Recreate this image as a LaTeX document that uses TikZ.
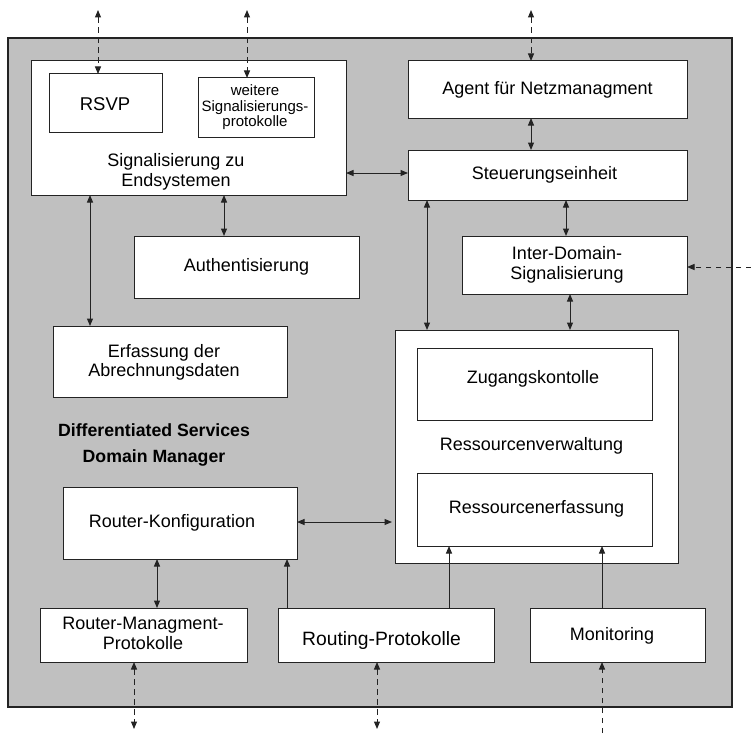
\documentclass[tikz,border=0pt]{standalone}
\usepackage{fontspec}
\setmainfont{Liberation Sans}
\usetikzlibrary{arrows.meta}
\definecolor{panel}{RGB}{192,192,192}
\definecolor{ink}{RGB}{35,35,35}
% \mkbox[options]{name}{x1}{y1}{x2}{y2}: an empty framed block between two corners
\newcommand\mkbox[6][]{\node[blk,minimum width={#5-#3},minimum height={#6-#4},#1] (#2) at ({(#3+#5)/2},{(#4+#6)/2}) {};}
\begin{document}
\begin{tikzpicture}[x=1pt,y=-1pt,
  blk/.style={draw=ink, line width=1pt, fill=white, inner sep=0pt, outer sep=0pt},
  lbl/.style={inner sep=0pt, align=center, font=\fontsize{18}{19.5}\selectfont},
  small/.style={inner sep=0pt, align=center, font=\fontsize{15}{15.6}\selectfont},
  title/.style={inner sep=0pt, align=center, font=\fontsize{17.7}{26}\selectfont\bfseries},
  tip/.tip={Triangle[length=7.5pt,width=6pt]},
  link/.style={draw=ink, line width=1pt},
  ext/.style={draw=ink, line width=1pt, dash pattern=on 5.5pt off 4.5pt},
]
\useasboundingbox (0,0) rectangle (751,733);

% domain manager panel
\mkbox[fill=panel, line width=1.5pt]{dm}{8}{38}{732}{707}
\node[title] (dmt) at (154,445) {Differentiated Services\\Domain Manager};

% signalling towards end systems
\mkbox{sig}{31}{61}{346}{195}
\node[lbl] (sigt) at (176,172) {Signalisierung zu\\Endsystemen};
\mkbox{rsvp}{49}{74}{162}{132}
\node[lbl, font=\fontsize{18.5}{19.5}\selectfont] (rsvpt) at (105,104) {RSVP};
\mkbox{more}{198}{78}{314}{137}
\node[small] (moret) at (255,107.5) {weitere\\Signalisierungs-\\protokolle};

% management and control
\mkbox{agent}{408}{61}{687}{118}
\node[lbl] (agentt) at (547.5,90) {Agent für Netzmanagment};
\mkbox{ctrl}{408}{150}{687}{200}
\node[lbl] (ctrlt) at (544.5,174.5) {Steuerungseinheit};
\mkbox{inter}{462}{236}{687}{294}
\node[lbl] (intert) at (567,265) {Inter-Domain-\\Signalisierung};
\mkbox{auth}{134}{236}{359}{298}
\node[lbl] (autht) at (246.5,267) {Authentisierung};
\mkbox{acct}{53}{326}{287}{397}
\node[lbl] (acctt) at (164,362.5) {Erfassung der\\Abrechnungsdaten};

% resource management
\mkbox{res}{395}{330}{678}{563}
\node[lbl] (rest) at (531.5,445.5) {Ressourcenverwaltung};
\mkbox{adm}{417}{348}{652}{420}
\node[lbl] (admt) at (533,378.5) {Zugangskontolle};
\mkbox{rinv}{417}{473}{652}{546}
\node[lbl] (rinvt) at (536.5,508.5) {Ressourcenerfassung};

% router side
\mkbox{conf}{63}{487}{297}{559}
\node[lbl] (conft) at (172,522.5) {Router-Konfiguration};
\mkbox{rmp}{40}{608}{247}{662}
\node[lbl] (rmpt) at (143,633.5) {Router-Managment-\\Protokolle};
\mkbox{rout}{278}{608}{494}{662}
\node[lbl, font=\fontsize{19.3}{20}\selectfont] (routt) at (381.5,640) {Routing-Protokolle};
\mkbox{mon}{530}{608}{705}{662}
\node[lbl] (mont) at (612,635.5) {Monitoring};

% anchor columns and rows for the connectors
\coordinate (x90) at (90,0);
\coordinate (x157) at (157,0);
\coordinate (x224) at (224,0);
\coordinate (x287) at (287,0);
\coordinate (x427) at (427,0);
\coordinate (x449) at (449,0);
\coordinate (x531) at (531,0);
\coordinate (x566) at (566,0);
\coordinate (x570) at (570,0);
\coordinate (x602) at (602,0);
\coordinate (y173) at (0,173);
\coordinate (y522) at (0,522);

% external interfaces (dashed)
\coordinate (e1) at (98,10);
\coordinate (e2) at (247,10);
\coordinate (e3) at (531,10);
\coordinate (e4) at (751,267);
\coordinate (e5) at (134,729);
\coordinate (e6) at (377,729);
\coordinate (e7) at (602,733);
\draw[ext, tip-tip] (e1) -- (e1 |- rsvp.north);
\draw[ext, tip-tip] (e2) -- (e2 |- more.north);
\draw[ext, tip-tip] (e3) -- (e3 |- agent.north);
\draw[ext, -tip] (e4) -- (e4 -| inter.east);
\draw[ext, tip-tip] (rmp.south -| e5) -- (e5);
\draw[ext, tip-tip] (rout.south -| e6) -- (e6);
\draw[ext, -tip] (e7) -- (e7 |- mon.south);

% internal connections
\draw[link, tip-tip] (agent.south -| x531) -- (ctrl.north -| x531);
\draw[link, tip-tip] (sig.east |- y173) -- (ctrl.west |- y173);
\draw[link, tip-tip] (ctrl.south -| x566) -- (inter.north -| x566);
\draw[link, tip-tip] (ctrl.south -| x427) -- (res.north -| x427);
\draw[link, tip-tip] (inter.south -| x570) -- (res.north -| x570);
\draw[link, tip-tip] (sig.south -| x224) -- (auth.north -| x224);
\draw[link, tip-tip] (sig.south -| x90) -- (acct.north -| x90);
\draw[link, tip-tip, shorten >=3pt] (conf.east |- y522) -- (res.west |- y522);
\draw[link, tip-tip] (conf.south -| x157) -- (rmp.north -| x157);
\draw[link, -tip] (rout.north -| x287) -- (conf.south -| x287);
\draw[link, -tip] (rout.north -| x449) -- (rinv.south -| x449);
\draw[link, -tip] (mon.north -| x602) -- (rinv.south -| x602);
\end{tikzpicture}
\end{document}
